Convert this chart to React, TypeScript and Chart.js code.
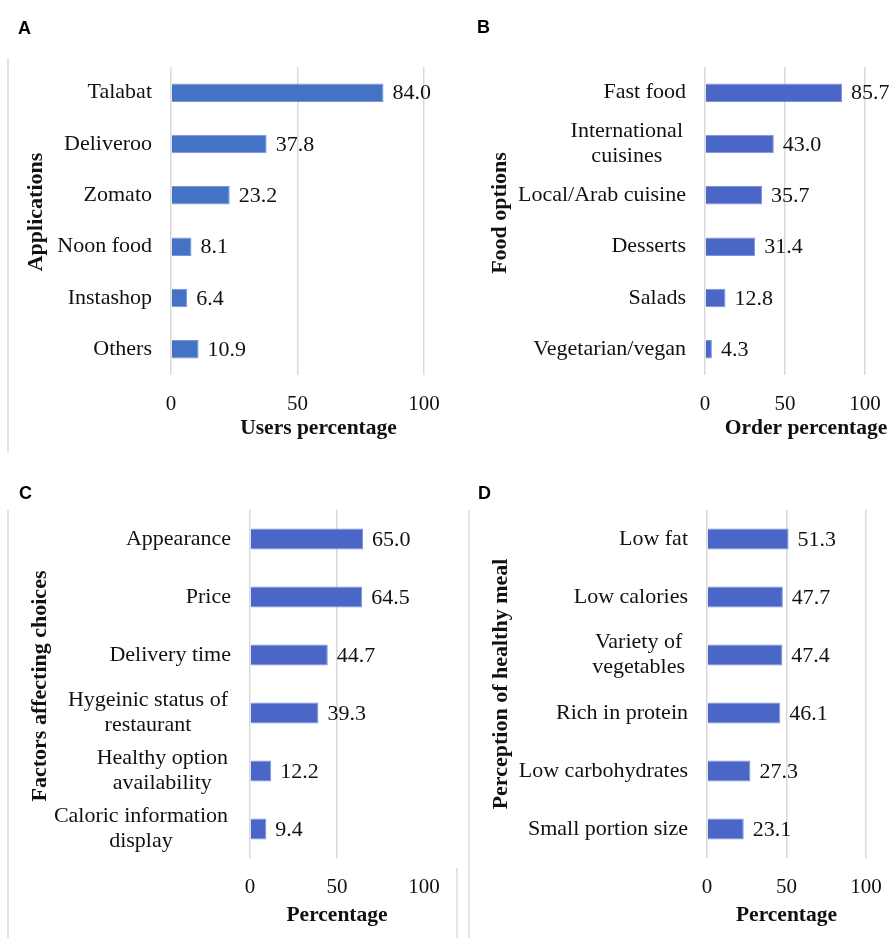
import React, { useEffect, useRef } from 'react';
import { Chart, registerables } from 'chart.js';

Chart.register(...registerables);

// ---------- Data ----------
const appCategories: (string | string[])[] = ['Talabat', 'Deliveroo', 'Zomato', 'Noon food', 'Instashop', 'Others'];
const appValues = [84.0, 37.8, 23.2, 8.1, 6.4, 10.9];

const foodCategories: (string | string[])[] = ['Fast food', ['International', 'cuisines'], 'Local/Arab cuisine', 'Desserts', 'Salads', 'Vegetarian/vegan'];
const foodValues = [85.7, 43.0, 35.7, 31.4, 12.8, 4.3];

const factorCategories: (string | string[])[] = ['Appearance', 'Price', 'Delivery time', ['Hygeinic status of', 'restaurant'], ['Healthy option', 'availability'], ['Caloric information', 'display']];
const factorValues = [65.0, 64.5, 44.7, 39.3, 12.2, 9.4];

const healthyCategories: (string | string[])[] = ['Low fat', 'Low calories', ['Variety of', 'vegetables'], 'Rich in protein', 'Low carbohydrates', 'Small portion size'];
const healthyValues = [51.3, 47.7, 47.4, 46.1, 27.3, 23.1];

const xTickValues = [0, 50, 100];

// ---------- Styles ----------
const SERIF = '"Liberation Serif", "Times New Roman", serif';
const FS_LABEL = 22;
const FS_TICK = 21;
const FS_XTITLE = 21.5;
const FS_YTITLE = 22;
const LINE_H = 25;

type Panel = {
  letter: string;
  categories: (string | string[])[];
  values: number[];
  xTitle: string;
  yTitle: string;
  left: number; top: number; w: number; h: number;
  area: { l: number; r: number; t: number; b: number };
  color: string; border: string;
  xTitleShift: number; xTitleDy: number;
  yTitleX: number; yTitleShift: number;
  hideMaxGrid: boolean;
  letterX: number; letterY: number;
};

const panels: Panel[] = [
  {
    letter: 'A', categories: appCategories, values: appValues,
    xTitle: 'Users percentage', yTitle: 'Applications',
    left: 0, top: 0, w: 445, h: 469,
    area: { l: 171, r: 424, t: 67, b: 375 },
    color: '#4472c4', border: '#7996d6',
    xTitleShift: 21, xTitleDy: 53, yTitleX: 36, yTitleShift: -9, hideMaxGrid: false,
    letterX: 18, letterY: 19,
  },
  {
    letter: 'B', categories: foodCategories, values: foodValues,
    xTitle: 'Order percentage', yTitle: 'Food options',
    left: 445, top: 0, w: 446, h: 469,
    area: { l: 260, r: 420, t: 67, b: 375 },
    color: '#4a66c6', border: '#7b92dc',
    xTitleShift: 21, xTitleDy: 53, yTitleX: 55, yTitleShift: -8, hideMaxGrid: false,
    letterX: 32, letterY: 18,
  },
  {
    letter: 'C', categories: factorCategories, values: factorValues,
    xTitle: 'Percentage', yTitle: 'Factors affecting choices',
    left: 0, top: 469, w: 445, h: 469,
    area: { l: 250, r: 424, t: 41, b: 389 },
    color: '#4a66c6', border: '#7b92dc',
    xTitleShift: 0, xTitleDy: 57, yTitleX: 40, yTitleShift: 2, hideMaxGrid: true,
    letterX: 19, letterY: 15,
  },
  {
    letter: 'D', categories: healthyCategories, values: healthyValues,
    xTitle: 'Percentage', yTitle: 'Perception of healthy meal',
    left: 445, top: 469, w: 446, h: 469,
    area: { l: 262, r: 421, t: 41, b: 389 },
    color: '#4a66c6', border: '#7b92dc',
    xTitleShift: 0, xTitleDy: 57, yTitleX: 56, yTitleShift: 0, hideMaxGrid: false,
    letterX: 33, letterY: 15,
  },
];

const textPlugin = {
  id: 'panelText',
  afterDraw(chart: any, _args: any, opts: any) {
    const ctx = chart.ctx as CanvasRenderingContext2D;
    const area = chart.chartArea;
    const ys = chart.scales.y;
    const cats: (string | string[])[] = opts.categories;
    const vals: number[] = opts.values;
    ctx.save();
    ctx.fillStyle = '#111';
    ctx.font = `${FS_LABEL}px ${SERIF}`;
    ctx.textBaseline = 'middle';
    // category labels
    cats.forEach((lab, i) => {
      const y = ys.getPixelForValue(i);
      const lines = Array.isArray(lab) ? lab : [lab];
      const right = area.left - 19 - (lines.length > 1 ? 3 : 0);
      const maxW = Math.max(...lines.map((l) => ctx.measureText(l).width));
      ctx.textAlign = 'center';
      lines.forEach((ln, j) => {
        ctx.fillText(ln, right - maxW / 2, y + (j - (lines.length - 1) / 2) * LINE_H);
      });
    });
    // value labels
    const meta = chart.getDatasetMeta(0);
    ctx.textAlign = 'left';
    meta.data.forEach((bar: any, i: number) => {
      ctx.fillText(vals[i].toFixed(1), bar.x + 9, bar.y + 1);
    });
    // x title
    ctx.font = `bold ${FS_XTITLE}px ${SERIF}`;
    ctx.textAlign = 'center';
    ctx.fillText(opts.xTitle, (area.left + area.right) / 2 + opts.xTitleShift, area.bottom + opts.xTitleDy);
    // y title
    ctx.font = `bold ${FS_YTITLE}px ${SERIF}`;
    ctx.translate(opts.yTitleX, (area.top + area.bottom) / 2 + opts.yTitleShift);
    ctx.rotate(-Math.PI / 2);
    ctx.fillText(opts.yTitle, 0, 0);
    ctx.restore();
  },
};

function PanelChart({ p }: { p: Panel }) {
  const ref = useRef<HTMLCanvasElement | null>(null);
  useEffect(() => {
    if (!ref.current) return;
    const chart = new Chart(ref.current, {
      type: 'bar',
      data: {
        labels: p.categories.map((c) => (Array.isArray(c) ? c.join(' ') : c)),
        datasets: [
          {
            data: p.values,
            backgroundColor: p.color,
            borderColor: p.border,
            borderWidth: 1,
            barPercentage: 0.36,
            categoryPercentage: 1,
          },
        ],
      },
      options: {
        indexAxis: 'y',
        animation: false,
        responsive: false,
        maintainAspectRatio: false,
        devicePixelRatio: 1,
        layout: { padding: { left: 0, top: p.area.t, right: p.w - p.area.r, bottom: 0 } },
        plugins: {
          legend: { display: false },
          tooltip: { enabled: false },
          panelText: {
            categories: p.categories,
            values: p.values,
            xTitle: p.xTitle,
            yTitle: p.yTitle,
            xTitleShift: p.xTitleShift,
            xTitleDy: p.xTitleDy,
            yTitleX: p.yTitleX,
            yTitleShift: p.yTitleShift,
          },
        } as any,
        scales: {
          x: {
            min: 0,
            max: 100,
            afterBuildTicks: (scale: any) => {
              scale.ticks = xTickValues.map((v) => ({ value: v }));
            },
            ticks: {
              color: '#111',
              font: { family: SERIF, size: FS_TICK },
              padding: 17,
              maxRotation: 0,
            },
            grid: {
              drawTicks: false,
              lineWidth: 1.5,
              color: (c: any) => (p.hideMaxGrid && c.tick && c.tick.value === 100 ? 'rgba(0,0,0,0)' : '#d9d9d9'),
            },
            border: { display: false },
            afterFit: (scale: any) => {
              scale.height = p.h - p.area.b;
              scale.paddingRight = 0;
              scale.paddingLeft = 0;
            },
          },
          y: {
            ticks: { display: false },
            grid: { display: false },
            border: { display: false },
            afterFit: (scale: any) => {
              scale.width = p.area.l;
              scale.paddingTop = 0;
              scale.paddingBottom = 0;
            },
          },
        },
      } as any,
      plugins: [textPlugin],
    });
    return () => chart.destroy();
  }, [p]);
  return (
    <div style={{ position: 'absolute', left: p.left, top: p.top, width: p.w, height: p.h }}>
      <canvas ref={ref} width={p.w} height={p.h} style={{ width: p.w, height: p.h, display: 'block' }} />
      <div
        style={{
          position: 'absolute',
          left: p.letterX,
          top: p.letterY,
          font: 'bold 18px "Liberation Sans", Arial, sans-serif',
          color: '#000',
          lineHeight: '18px',
        }}
      >
        {p.letter}
      </div>
    </div>
  );
}

export default function App() {
  useEffect(() => {
    document.body.style.margin = '0';
  }, []);
  const line = (l: number, t: number, h: number) => (
    <div style={{ position: 'absolute', left: l, top: t, width: 2, height: h, background: '#e4e4e4' }} />
  );
  return (
    <div style={{ position: 'absolute', left: 0, top: 0, width: 891, height: 938, background: '#fff', overflow: 'hidden' }}>
      {panels.map((p) => (
        <PanelChart key={p.letter} p={p} />
      ))}
      {line(7, 58, 395)}
      {line(7, 510, 428)}
      {line(468, 510, 428)}
      {line(456, 868, 70)}
    </div>
  );
}
